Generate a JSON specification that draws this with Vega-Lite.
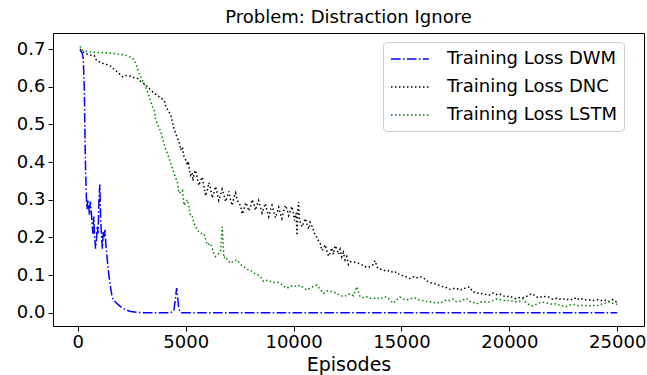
{
  "$schema": "https://vega.github.io/schema/vega-lite/v6.json",
  "autosize": {"type": "none"},
  "width": 591,
  "height": 293,
  "padding": {"left": 53, "top": 33, "right": 3, "bottom": 49},
  "background": "white",
  "title": {"text": "Problem: Distraction Ignore", "font": "DejaVu Sans", "fontSize": 18, "fontWeight": "normal", "color": "black", "anchor": "middle", "offset": 6},
  "config": {
    "view": {"stroke": "black", "strokeWidth": 1},
    "axis": {"labelFont": "DejaVu Sans", "labelFontSize": 18, "labelColor": "black", "titleFont": "DejaVu Sans", "titleFontSize": 19, "titleFontWeight": "normal", "titleColor": "black", "tickColor": "black", "tickSize": 5, "domain": false, "grid": false, "labelPadding": 2}
  },
  "datasets": {
    "dwm": [
      {"ep":100,"v":0.697},{"ep":200,"v":0.690},{"ep":250,"v":0.675},{"ep":300,"v":0.600},{"ep":330,"v":0.480},{"ep":360,"v":0.380},{"ep":400,"v":0.300},{"ep":430,"v":0.275},{"ep":460,"v":0.300},{"ep":500,"v":0.285},{"ep":540,"v":0.260},{"ep":580,"v":0.295},{"ep":620,"v":0.270},{"ep":660,"v":0.240},{"ep":700,"v":0.210},{"ep":740,"v":0.255},{"ep":780,"v":0.200},{"ep":820,"v":0.170},{"ep":860,"v":0.190},{"ep":900,"v":0.230},{"ep":940,"v":0.210},{"ep":980,"v":0.300},{"ep":1020,"v":0.340},{"ep":1060,"v":0.250},{"ep":1100,"v":0.200},{"ep":1140,"v":0.170},{"ep":1180,"v":0.215},{"ep":1220,"v":0.200},{"ep":1260,"v":0.220},{"ep":1300,"v":0.180},{"ep":1350,"v":0.150},{"ep":1400,"v":0.120},{"ep":1450,"v":0.095},{"ep":1500,"v":0.075},{"ep":1550,"v":0.055},{"ep":1600,"v":0.040},{"ep":1700,"v":0.030},{"ep":1800,"v":0.025},{"ep":1900,"v":0.020},{"ep":2000,"v":0.015},{"ep":2200,"v":0.008},{"ep":2400,"v":0.004},{"ep":2700,"v":0.001},{"ep":3000,"v":0},{"ep":4300,"v":0},{"ep":4450,"v":0.005},{"ep":4530,"v":0.040},{"ep":4580,"v":0.065},{"ep":4620,"v":0.045},{"ep":4680,"v":0.010},{"ep":4800,"v":0},{"ep":25000,"v":0}
    ],
    "dnc": [
      {"ep":100,"v":0.700},{"ep":300,"v":0.690},{"ep":500,"v":0.685},{"ep":766,"v":0.683},{"ep":845,"v":0.672},{"ep":1076,"v":0.663},{"ep":1300,"v":0.660},{"ep":1537,"v":0.654},{"ep":1700,"v":0.645},{"ep":1847,"v":0.639},{"ep":2078,"v":0.626},{"ep":2250,"v":0.630},{"ep":2461,"v":0.628},{"ep":2600,"v":0.624},{"ep":2770,"v":0.622},{"ep":2900,"v":0.615},{"ep":3075,"v":0.608},{"ep":3232,"v":0.600},{"ep":3384,"v":0.591},{"ep":3540,"v":0.583},{"ep":3694,"v":0.577},{"ep":3846,"v":0.570},{"ep":3998,"v":0.564},{"ep":4100,"v":0.545},{"ep":4229,"v":0.533},{"ep":4307,"v":0.525},{"ep":4460,"v":0.488},{"ep":4617,"v":0.463},{"ep":4691,"v":0.455},
      {"ep":4769,"v":0.432},{"ep":4845,"v":0.440},{"ep":4922,"v":0.414},{"ep":5000,"v":0.405},{"ep":5079,"v":0.392},{"ep":5115,"v":0.402},{"ep":5153,"v":0.387},{"ep":5225,"v":0.365},{"ep":5300,"v":0.372},{"ep":5340,"v":0.350},{"ep":5384,"v":0.370},{"ep":5460,"v":0.378},{"ep":5540,"v":0.355},{"ep":5615,"v":0.338},{"ep":5693,"v":0.352},{"ep":5770,"v":0.360},{"ep":5845,"v":0.335},{"ep":5920,"v":0.310},{"ep":6002,"v":0.325},{"ep":6075,"v":0.345},{"ep":6150,"v":0.330},{"ep":6230,"v":0.305},{"ep":6307,"v":0.318},{"ep":6385,"v":0.335},{"ep":6464,"v":0.317},{"ep":6530,"v":0.298},{"ep":6600,"v":0.310},{"ep":6690,"v":0.328},{"ep":6770,"v":0.312},{"ep":6850,"v":0.295},{"ep":6926,"v":0.308},{"ep":7000,"v":0.322},{"ep":7078,"v":0.300},{"ep":7150,"v":0.285},{"ep":7230,"v":0.305},{"ep":7310,"v":0.318},{"ep":7387,"v":0.300},{"ep":7460,"v":0.290},{"ep":7540,"v":0.285},{"ep":7615,"v":0.262},{"ep":7692,"v":0.272},{"ep":7770,"v":0.292},{"ep":7850,"v":0.285},{"ep":7925,"v":0.270},{"ep":8001,"v":0.281},{"ep":8080,"v":0.300},{"ep":8154,"v":0.290},{"ep":8230,"v":0.272},{"ep":8300,"v":0.285},{"ep":8380,"v":0.298},{"ep":8463,"v":0.281},{"ep":8540,"v":0.265},{"ep":8615,"v":0.278},{"ep":8690,"v":0.290},{"ep":8770,"v":0.270},{"ep":8850,"v":0.255},{"ep":8925,"v":0.272},{"ep":9000,"v":0.285},{"ep":9080,"v":0.268},{"ep":9160,"v":0.252},{"ep":9234,"v":0.265},{"ep":9310,"v":0.280},{"ep":9386,"v":0.264},{"ep":9460,"v":0.250},{"ep":9540,"v":0.270},{"ep":9620,"v":0.285},{"ep":9696,"v":0.275},{"ep":9770,"v":0.258},{"ep":9848,"v":0.270},{"ep":9925,"v":0.282},{"ep":10000,"v":0.262},{"ep":10040,"v":0.245},{"ep":10079,"v":0.255},{"ep":10120,"v":0.265},{"ep":10157,"v":0.205},{"ep":10190,"v":0.262},{"ep":10231,"v":0.294},{"ep":10270,"v":0.245},{"ep":10310,"v":0.240},{"ep":10390,"v":0.228},{"ep":10462,"v":0.238},{"ep":10540,"v":0.250},{"ep":10619,"v":0.235},{"ep":10700,"v":0.222},{"ep":10770,"v":0.240},{"ep":10850,"v":0.230},{"ep":10924,"v":0.219},{"ep":11000,"v":0.205},{"ep":11081,"v":0.200},{"ep":11160,"v":0.190},{"ep":11233,"v":0.184},{"ep":11310,"v":0.165},{"ep":11386,"v":0.170},{"ep":11460,"v":0.180},{"ep":11540,"v":0.165},{"ep":11620,"v":0.150},{"ep":11695,"v":0.158},{"ep":11770,"v":0.172},{"ep":11847,"v":0.155},{"ep":11925,"v":0.178},{"ep":12000,"v":0.170},{"ep":12080,"v":0.155},{"ep":12156,"v":0.168},{"ep":12230,"v":0.148},{"ep":12309,"v":0.160},{"ep":12390,"v":0.140},{"ep":12466,"v":0.149},{"ep":12540,"v":0.128},{"ep":12618,"v":0.135},
      {"ep":12770,"v":0.135},{"ep":12928,"v":0.132},{"ep":13080,"v":0.130},{"ep":13230,"v":0.125},{"ep":13389,"v":0.120},{"ep":13550,"v":0.122},{"ep":13694,"v":0.128},{"ep":13772,"v":0.138},{"ep":13900,"v":0.118},{"ep":14156,"v":0.113},{"ep":14313,"v":0.110},{"ep":14460,"v":0.112},{"ep":14617,"v":0.106},{"ep":14774,"v":0.108},{"ep":14927,"v":0.100},{"ep":15100,"v":0.098},{"ep":15389,"v":0.091},{"ep":15541,"v":0.095},{"ep":15698,"v":0.092},{"ep":15850,"v":0.096},{"ep":16003,"v":0.093},{"ep":16160,"v":0.085},{"ep":16312,"v":0.080},{"ep":16470,"v":0.078},{"ep":16621,"v":0.076},{"ep":16773,"v":0.072},{"ep":16950,"v":0.068},{"ep":17100,"v":0.066},{"ep":17235,"v":0.062},{"ep":17390,"v":0.064},{"ep":17544,"v":0.065},{"ep":17700,"v":0.060},{"ep":17850,"v":0.062},{"ep":18006,"v":0.067},{"ep":18159,"v":0.068},{"ep":18311,"v":0.055},{"ep":18468,"v":0.054},{"ep":18620,"v":0.050},{"ep":18773,"v":0.051},{"ep":18930,"v":0.048},{"ep":19082,"v":0.047},{"ep":19240,"v":0.052},{"ep":19390,"v":0.048},{"ep":19543,"v":0.050},{"ep":19696,"v":0.045},{"ep":19853,"v":0.042},{"ep":20000,"v":0.044},{"ep":20160,"v":0.040},{"ep":20315,"v":0.037},{"ep":20470,"v":0.040},{"ep":20620,"v":0.040},{"ep":20800,"v":0.043},{"ep":20950,"v":0.048},{"ep":21081,"v":0.050},{"ep":21238,"v":0.042},{"ep":21391,"v":0.040},{"ep":21550,"v":0.044},{"ep":21700,"v":0.042},{"ep":21853,"v":0.041},{"ep":22000,"v":0.036},{"ep":22162,"v":0.038},{"ep":22320,"v":0.036},{"ep":22470,"v":0.038},{"ep":22623,"v":0.034},{"ep":22780,"v":0.036},{"ep":22931,"v":0.034},{"ep":23100,"v":0.040},{"ep":23240,"v":0.034},{"ep":23389,"v":0.037},{"ep":23550,"v":0.034},{"ep":23699,"v":0.034},{"ep":23850,"v":0.032},{"ep":24000,"v":0.034},{"ep":24160,"v":0.034},{"ep":24320,"v":0.031},{"ep":24470,"v":0.033},{"ep":24622,"v":0.030},{"ep":24800,"v":0.035},{"ep":25000,"v":0.027}
    ],
    "lstm": [
      {"ep":100,"v":0.707},{"ep":200,"v":0.697},{"ep":614,"v":0.692},{"ep":1000,"v":0.691},{"ep":1385,"v":0.690},{"ep":1700,"v":0.688},{"ep":1999,"v":0.686},{"ep":2250,"v":0.683},{"ep":2461,"v":0.679},{"ep":2539,"v":0.676},{"ep":2613,"v":0.670},{"ep":2692,"v":0.661},{"ep":2844,"v":0.635},{"ep":3075,"v":0.608},{"ep":3260,"v":0.582},{"ep":3306,"v":0.573},{"ep":3463,"v":0.546},{"ep":3537,"v":0.538},{"ep":3615,"v":0.511},{"ep":3846,"v":0.480},{"ep":4077,"v":0.432},{"ep":4155,"v":0.423},{"ep":4307,"v":0.396},{"ep":4460,"v":0.370},{"ep":4617,"v":0.345},{"ep":4691,"v":0.317},{"ep":4850,"v":0.325},{"ep":4922,"v":0.285},{"ep":5079,"v":0.300},{"ep":5231,"v":0.255},{"ep":5310,"v":0.255},{"ep":5384,"v":0.237},{"ep":5540,"v":0.219},{"ep":5693,"v":0.210},{"ep":5845,"v":0.210},{"ep":6002,"v":0.180},{"ep":6154,"v":0.184},{"ep":6307,"v":0.157},{"ep":6385,"v":0.149},{"ep":6464,"v":0.152},{"ep":6616,"v":0.166},{"ep":6695,"v":0.228},{"ep":6769,"v":0.145},{"ep":6847,"v":0.149},{"ep":6926,"v":0.140},{"ep":7078,"v":0.131},{"ep":7230,"v":0.138},{"ep":7387,"v":0.140},{"ep":7540,"v":0.128},{"ep":7692,"v":0.122},{"ep":7850,"v":0.115},{"ep":8001,"v":0.113},{"ep":8154,"v":0.105},{"ep":8300,"v":0.102},{"ep":8463,"v":0.095},{"ep":8615,"v":0.082},{"ep":8770,"v":0.086},{"ep":8925,"v":0.083},{"ep":9080,"v":0.080},{"ep":9234,"v":0.082},{"ep":9386,"v":0.078},{"ep":9540,"v":0.070},{"ep":9696,"v":0.065},{"ep":9848,"v":0.070},{"ep":10000,"v":0.072},{"ep":10160,"v":0.069},{"ep":10310,"v":0.073},{"ep":10462,"v":0.066},{"ep":10619,"v":0.060},{"ep":10770,"v":0.066},{"ep":10924,"v":0.070},{"ep":11081,"v":0.073},{"ep":11233,"v":0.062},{"ep":11386,"v":0.051},{"ep":11540,"v":0.058},{"ep":11695,"v":0.056},{"ep":11847,"v":0.056},{"ep":12000,"v":0.050},{"ep":12156,"v":0.047},{"ep":12309,"v":0.042},{"ep":12466,"v":0.046},{"ep":12618,"v":0.050},{"ep":12770,"v":0.045},{"ep":12928,"v":0.069},{"ep":13080,"v":0.042},{"ep":13230,"v":0.040},{"ep":13389,"v":0.042},{"ep":13550,"v":0.038},{"ep":13694,"v":0.038},{"ep":13850,"v":0.040},{"ep":14000,"v":0.036},{"ep":14156,"v":0.041},{"ep":14313,"v":0.042},{"ep":14460,"v":0.034},{"ep":14617,"v":0.025},{"ep":14774,"v":0.034},{"ep":14927,"v":0.042},{"ep":15100,"v":0.036},{"ep":15250,"v":0.034},{"ep":15389,"v":0.036},{"ep":15541,"v":0.040},{"ep":15698,"v":0.038},{"ep":15850,"v":0.033},{"ep":16003,"v":0.032},{"ep":16160,"v":0.030},{"ep":16312,"v":0.029},{"ep":16470,"v":0.026},{"ep":16621,"v":0.028},{"ep":16773,"v":0.025},{"ep":16950,"v":0.030},{"ep":17100,"v":0.034},{"ep":17235,"v":0.032},{"ep":17390,"v":0.036},{"ep":17544,"v":0.029},{"ep":17700,"v":0.030},{"ep":17850,"v":0.034},{"ep":18006,"v":0.038},{"ep":18159,"v":0.030},{"ep":18311,"v":0.028},{"ep":18468,"v":0.023},{"ep":18620,"v":0.027},{"ep":18773,"v":0.030},{"ep":18930,"v":0.028},{"ep":19082,"v":0.029},{"ep":19240,"v":0.032},{"ep":19390,"v":0.036},{"ep":19543,"v":0.034},{"ep":19696,"v":0.034},{"ep":19853,"v":0.031},{"ep":20000,"v":0.033},{"ep":20160,"v":0.030},{"ep":20315,"v":0.029},{"ep":20470,"v":0.030},{"ep":20620,"v":0.037},{"ep":20800,"v":0.025},{"ep":20950,"v":0.020},{"ep":21081,"v":0.018},{"ep":21238,"v":0.022},{"ep":21391,"v":0.026},{"ep":21550,"v":0.028},{"ep":21700,"v":0.025},{"ep":21853,"v":0.025},{"ep":22000,"v":0.022},{"ep":22162,"v":0.024},{"ep":22320,"v":0.020},{"ep":22470,"v":0.018},{"ep":22623,"v":0.016},{"ep":22780,"v":0.020},{"ep":22931,"v":0.022},{"ep":23100,"v":0.020},{"ep":23240,"v":0.018},{"ep":23389,"v":0.020},{"ep":23550,"v":0.019},{"ep":23699,"v":0.018},{"ep":23850,"v":0.020},{"ep":24000,"v":0.018},{"ep":24160,"v":0.020},{"ep":24320,"v":0.024},{"ep":24470,"v":0.026},{"ep":24622,"v":0.029},{"ep":24800,"v":0.025},{"ep":25000,"v":0.022}
    ]
  },
  "layer": [
    {
      "data": {"name": "dwm"},
      "transform": [{"calculate": "'Training Loss DWM'", "as": "series"}],
      "mark": {"type": "line", "strokeWidth": 1.5, "strokeCap": "butt", "clip": true},
      "encoding": {
        "x": {"field": "ep", "type": "quantitative", "title": "Episodes", "scale": {"domain": [-1150, 26240], "nice": false, "zero": false}, "axis": {"values": [0, 5000, 10000, 15000, 20000, 25000], "format": "d", "titlePadding": 4}},
        "y": {"field": "v", "type": "quantitative", "title": null, "scale": {"domain": [-0.0354, 0.7427], "nice": false, "zero": false}, "axis": {"values": [0, 0.1, 0.2, 0.3, 0.4, 0.5, 0.6, 0.7], "format": ".1f", "labelPadding": 3}},
        "color": {"field": "series", "type": "nominal", "scale": {"domain": ["Training Loss DWM", "Training Loss DNC", "Training Loss LSTM"], "range": ["#0000ff", "#000000", "#008000"]}, "legend": {"title": null, "orient": "none", "legendX": 330, "legendY": 9, "symbolType": "M-1,0H3.2", "symbolSize": 324, "symbolStrokeWidth": 1.5, "symbolFillColor": "transparent", "labelFont": "DejaVu Sans", "labelFontSize": 18, "labelLimit": 400, "labelColor": "black", "labelOffset": 37, "rowPadding": 9, "padding": 7, "fillColor": "white", "strokeColor": "#cccccc", "cornerRadius": 4}},
        "strokeDash": {"field": "series", "type": "nominal", "scale": {"domain": ["Training Loss DWM", "Training Loss DNC", "Training Loss LSTM"], "range": [[9.6, 2.4, 1.5, 2.4], [1.5, 2.5], [1.5, 2.5]]}, "legend": {"title": null, "orient": "none", "legendX": 330, "legendY": 9, "symbolType": "M-1,0H3.2", "symbolSize": 324, "symbolStrokeWidth": 1.5, "symbolFillColor": "transparent", "labelFont": "DejaVu Sans", "labelFontSize": 18, "labelLimit": 400, "labelColor": "black", "labelOffset": 37, "rowPadding": 9, "padding": 7, "fillColor": "white", "strokeColor": "#cccccc", "cornerRadius": 4}}
      }
    },
    {
      "data": {"name": "dnc"},
      "transform": [{"calculate": "'Training Loss DNC'", "as": "series"}],
      "mark": {"type": "line", "strokeWidth": 1.5, "strokeCap": "butt", "clip": true},
      "encoding": {
        "x": {"field": "ep", "type": "quantitative"},
        "y": {"field": "v", "type": "quantitative"},
        "color": {"field": "series", "type": "nominal"},
        "strokeDash": {"field": "series", "type": "nominal"}
      }
    },
    {
      "data": {"name": "lstm"},
      "transform": [{"calculate": "'Training Loss LSTM'", "as": "series"}],
      "mark": {"type": "line", "strokeWidth": 1.5, "strokeCap": "butt", "clip": true},
      "encoding": {
        "x": {"field": "ep", "type": "quantitative"},
        "y": {"field": "v", "type": "quantitative"},
        "color": {"field": "series", "type": "nominal"},
        "strokeDash": {"field": "series", "type": "nominal"}
      }
    }
  ]
}
